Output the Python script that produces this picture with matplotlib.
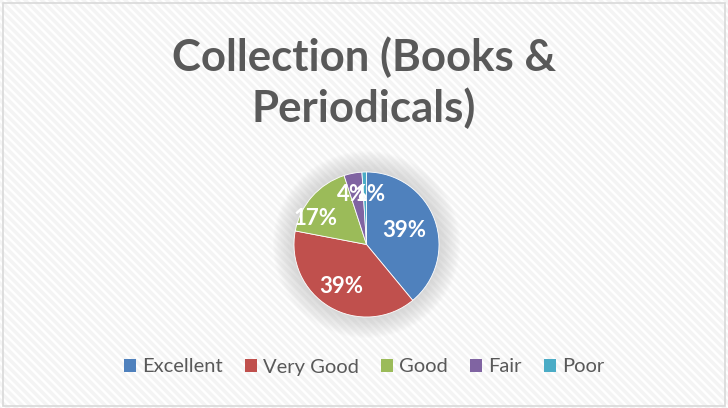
import numpy as np
import matplotlib
matplotlib.use('Agg')
import matplotlib.pyplot as plt
from matplotlib.patches import Rectangle, Circle

# Data
categories = ['Excellent', 'Very Good', 'Good', 'Fair', 'Poor']
shares = [39, 39, 17, 4, 1]
colors = ['#4F81BD', '#C0504D', '#9BBB59', '#8064A2', '#4BACC6']

# label placement (radius fraction, angle shift in degrees)
label_r = [0.55, 0.68, 0.79, 0.72, 0.69]
label_shift = [0, 0, 14, 5, -6]

plt.rcParams['font.family'] = ['Lato', 'DejaVu Sans']
plt.rcParams['hatch.linewidth'] = 2.5

W, H = 728, 408
fig = plt.figure(figsize=(W / 100, H / 100), dpi=100)

# background with diagonal stripes and border
bg = fig.add_axes([0, 0, 1, 1])
bg.set_xlim(0, W)
bg.set_ylim(0, H)
bg.axis('off')
bg.add_patch(Rectangle((0, 0), W, H, facecolor='white', edgecolor='#f4f4f4',
                       lw=0, hatch='\\\\\\\\'))
bg.add_patch(Rectangle((3, 2.5), W - 6, H - 5, facecolor='none', edgecolor='#d9d9d9', lw=1.2))

# title
fig.text(0.5, 1 - 57 / H, 'Collection (Books &', ha='center', va='center',
         fontsize=31.5, fontweight='bold', color='#595959')
fig.text(0.5, 1 - 108 / H, 'Periodicals)', ha='center', va='center',
         fontsize=31.5, fontweight='bold', color='#595959')

# pie
cx, cy, r = 366.5, 244.5, 72.5
ax = fig.add_axes([(cx - r) / W, 1 - (cy + r) / H, 2 * r / W, 2 * r / H])

# soft glow behind the pie
for k in range(16):
    rr = 1.0 + 0.018 * (16 - k)
    ax.add_patch(Circle((0, 0), rr, facecolor='#c8c8c8', edgecolor='none',
                        alpha=0.05, clip_on=False, zorder=0))

wedges, _ = ax.pie(shares, colors=colors, startangle=90, counterclock=False,
                   radius=1.0, wedgeprops=dict(linewidth=0.6, edgecolor='white'))
for w in wedges:
    w.set_zorder(2)
ax.set_xlim(-1, 1)
ax.set_ylim(-1, 1)
ax.set_aspect('equal')
ax.axis('off')

for w, v, lr, sh in zip(wedges, shares, label_r, label_shift):
    mid = np.deg2rad((w.theta1 + w.theta2) / 2 + sh)
    ax.text(lr * np.cos(mid), lr * np.sin(mid), f'{v}%', ha='center', va='center',
            fontsize=16, fontweight='bold', color='white', zorder=5)

# legend
handles = [Rectangle((0, 0), 1, 1, facecolor=c, edgecolor='none') for c in colors]
leg = fig.legend(handles, categories, loc='center', bbox_to_anchor=(0.5, 1 - 367 / H),
                 ncol=5, frameon=False, fontsize=14.5, handlelength=0.6, handleheight=0.6,
                 handletextpad=0.3, columnspacing=1.1)
for t in leg.get_texts():
    t.set_color('#595959')

fig.savefig('out.png', dpi=100)
